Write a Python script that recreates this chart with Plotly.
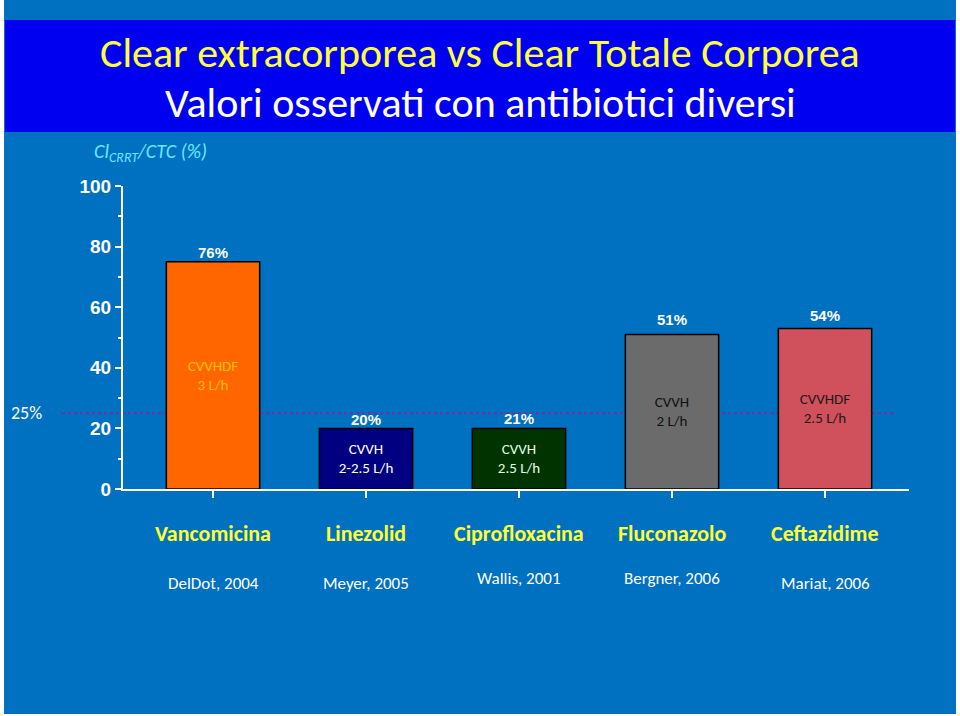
import plotly.graph_objects as go

# ---- data ----
drugs = ["Vancomicina", "Linezolid", "Ciprofloxacina", "Fluconazolo", "Ceftazidime"]
ratio_pct = [75, 20, 20, 51, 53]
pct_labels = ["76%", "20%", "21%", "51%", "54%"]
pct_label_y = [77.9, 23.1, 23.4, 56.1, 57.4]
modality = ["CVVHDF<br>3 L/h", "CVVH<br>2-2.5 L/h", "CVVH<br>2.5 L/h", "CVVH<br>2 L/h", "CVVHDF<br>2.5 L/h"]
authors = ["DelDot, 2004", "Meyer, 2005", "Wallis, 2001", "Bergner, 2006", "Mariat, 2006"]
author_py = [583, 583, 578, 578, 583]
threshold = 25
y_ticks = [0, 20, 40, 60, 80, 100]

bar_colors = ["#FF6600", "#000080", "#003300", "#6B6B6B", "#D0505C"]
text_colors = ["#FFC000", "#FFFFFF", "#E0FFE0", "#111111", "#1A1A1A"]

W, H = 960, 716
L, R, T, B = 123, 909, 186, 489  # plot area in pixels


def px(xp):
    return (xp - L) / (R - L)


def py(yp):
    return (B - yp) / (B - T)


SANS = "Carlito, Calibri, Lato, sans-serif"

fig = go.Figure()
fig.add_trace(go.Bar(
    x=list(range(len(drugs))), y=ratio_pct,
    width=0.61,
    marker=dict(color=bar_colors, line=dict(color="black", width=1.5)),
    text=modality, textposition="inside", insidetextanchor="middle",
    textangle=0,
    insidetextfont=dict(family=SANS, size=15, color=text_colors),
    hoverinfo="skip",
))

shapes = [
    dict(type="rect", xref="paper", yref="paper", x0=px(4), x1=px(956), y0=py(714), y1=py(0),
         fillcolor="#0070C0", line=dict(width=0), layer="below"),
    dict(type="rect", xref="paper", yref="paper", x0=px(5), x1=px(955), y0=py(132), y1=py(20),
         fillcolor="#0000F0", line=dict(width=0), layer="below"),
    dict(type="line", xref="paper", yref="y", x0=px(62), x1=px(893), y0=threshold, y1=threshold,
         line=dict(color="#7030A0", width=2, dash="dot"), layer="below"),
]

ann = []
ann.append(dict(text="Clear extracorporea vs Clear Totale Corporea", xref="paper", yref="paper",
                x=px(480), y=py(52), showarrow=False, xanchor="center", yanchor="middle",
                font=dict(family=SANS, size=42, color="#FFFF40")))
ann.append(dict(text="Valori osservati con antibiotici diversi", xref="paper", yref="paper",
                x=px(480), y=py(103), showarrow=False, xanchor="center", yanchor="middle",
                font=dict(family=SANS, size=42, color="#FFFFFF")))
ann.append(dict(text="<i>Cl<sub>CRRT</sub>/CTC (%)</i>", xref="paper", yref="paper",
                x=px(92), y=py(153), showarrow=False, xanchor="left", yanchor="middle",
                font=dict(family=SANS, size=20, color="#66E8FF")))
ann.append(dict(text="25%", xref="paper", yref="y", x=px(9), y=threshold, showarrow=False,
                xanchor="left", yanchor="middle", font=dict(family=SANS, size=18, color="white")))
for i in range(len(drugs)):
    ann.append(dict(text=pct_labels[i], x=i, y=pct_label_y[i], xref="x", yref="y", showarrow=False,
                    xanchor="center", yanchor="middle",
                    font=dict(family="Liberation Sans, Arial", size=15, color="white", weight="bold")))
    ann.append(dict(text="<b>" + drugs[i] + "</b>", x=i, y=py(533), xref="x", yref="paper",
                    showarrow=False, xanchor="center", yanchor="middle",
                    font=dict(family=SANS, size=22, color="#FFFF33")))
    ann.append(dict(text=authors[i], x=i, y=py(author_py[i]), xref="x", yref="paper",
                    showarrow=False, xanchor="center", yanchor="middle",
                    font=dict(family=SANS, size=17, color="white")))

fig.update_layout(
    width=W, height=H,
    margin=dict(l=L, r=W - R, t=T, b=H - B, pad=0),
    paper_bgcolor="white", plot_bgcolor="rgba(0,0,0,0)",
    showlegend=False,
    shapes=shapes, annotations=ann,
    xaxis=dict(range=[(L - 213) / 153, (R - 213) / 153], showgrid=False, zeroline=False,
               showline=True, linecolor="white", linewidth=2,
               tickmode="array", tickvals=list(range(len(drugs))), showticklabels=False,
               ticks="outside", ticklen=7, tickwidth=1.5, tickcolor="white", fixedrange=True),
    yaxis=dict(range=[0, 100], showgrid=False, zeroline=False,
               showline=True, linecolor="white", linewidth=2,
               tickmode="array", tickvals=y_ticks,
               ticks="outside", ticklen=6, tickwidth=2, tickcolor="white",
               tickfont=dict(family="Liberation Sans, Arial", size=19, color="white", weight="bold"),
               minor=dict(tickvals=[10, 30, 50, 70, 90], ticks="outside", ticklen=3,
                          tickwidth=2, tickcolor="white"),
               fixedrange=True),
)

fig.write_html("out.html", config={"displayModeBar": False},
               post_script="document.body.style.margin='0';")
